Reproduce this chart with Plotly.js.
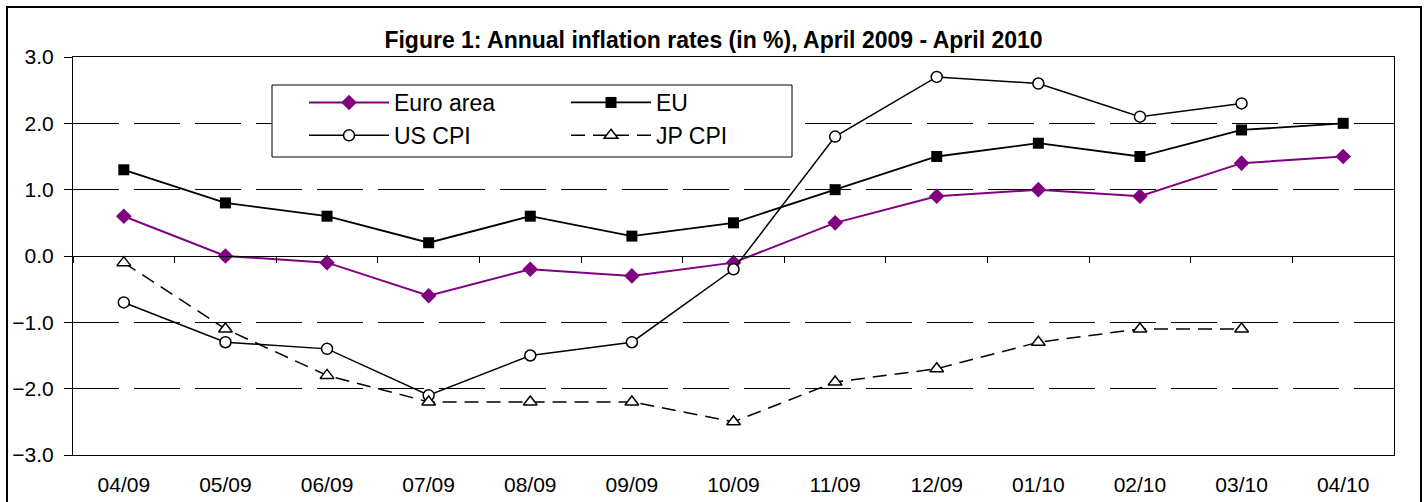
<!DOCTYPE html>
<html>
<head>
<meta charset="utf-8">
<script src="https://cdn.plot.ly/plotly-3.0.1.min.js"></script>
<style>
  html, body { margin: 0; padding: 0; background: #ffffff; }
  #chart { width: 1427px; height: 502px; }
</style>
</head>
<body>
<div id="chart"></div>
<script>
// ---- Data ----
const months = ["04/09","05/09","06/09","07/09","08/09","09/09","10/09","11/09","12/09","01/10","02/10","03/10","04/10"];
const euroArea = [0.6, 0.0, -0.1, -0.6, -0.2, -0.3, -0.1, 0.5, 0.9, 1.0, 0.9, 1.4, 1.5];
const eu       = [1.3, 0.8, 0.6, 0.2, 0.6, 0.3, 0.5, 1.0, 1.5, 1.7, 1.5, 1.9, 2.0];
const usCpi    = [-0.7, -1.3, -1.4, -2.1, -1.5, -1.3, -0.2, 1.8, 2.7, 2.6, 2.1, 2.3, null];
const jpCpi    = [-0.1, -1.1, -1.8, -2.2, -2.2, -2.2, -2.5, -1.9, -1.7, -1.3, -1.1, -1.1, null];
const seriesNames = ["Euro area", "EU", "US CPI", "JP CPI"];
const yTicks = [-3, -2, -1, 0, 1, 2, 3];
const titleText = "<b>Figure 1: Annual inflation rates (in %), April 2009 - April 2010</b>";

// ---- Layout geometry ----
const W = 1427, H = 502;
const M = {l: 73, r: 33, t: 57, b: 47};
const pw = W - M.l - M.r, ph = H - M.t - M.b;
const FONT = "Liberation Sans, Arial, Helvetica, sans-serif";
const px2x = v => (v - M.l) / pw;
const px2y = v => (H - M.b - v) / ph;

const traces = [
  {
    x: months, y: euroArea, name: seriesNames[0], type: "scatter", mode: "lines+markers",
    legend: "legend", legendgroup: "a",
    line: {color: "#800080", width: 2},
    marker: {symbol: "diamond", size: 12, color: "#800080"}
  },
  {
    x: months, y: eu, name: seriesNames[1], type: "scatter", mode: "lines+markers",
    legend: "legend2", legendgroup: "b",
    line: {color: "#000000", width: 1.8},
    marker: {symbol: "square", size: 11, color: "#000000"}
  },
  {
    x: months, y: usCpi, name: seriesNames[2], type: "scatter", mode: "lines+markers",
    legend: "legend", legendgroup: "c",
    line: {color: "#000000", width: 1.5},
    marker: {symbol: "circle", size: 11, color: "#ffffff", line: {color: "#000000", width: 1.5}}
  },
  {
    x: months, y: jpCpi, name: seriesNames[3], type: "scatter", mode: "lines+markers",
    legend: "legend2", legendgroup: "d",
    line: {color: "#000000", width: 1.5, dash: "14px,8px"},
    marker: {symbol: "triangle-up", size: 12, color: "#ffffff", line: {color: "#000000", width: 1.5}}
  },
  // helper trace so the zero-line category axis (with boundary ticks) is drawn
  {
    x: months, y: months.map(() => null), xaxis: "x2", yaxis: "y",
    type: "scatter", mode: "lines", showlegend: false, hoverinfo: "skip"
  }
];

const legendCommon = {
  orientation: "v",
  xanchor: "left", yanchor: "top",
  bgcolor: "rgba(0,0,0,0)", borderwidth: 0,
  font: {family: FONT, size: 23, color: "#000000"},
  itemwidth: 80,
  tracegroupgap: 5,
  traceorder: "normal"
};

const layout = {
  width: W, height: H,
  margin: M,
  paper_bgcolor: "#ffffff",
  plot_bgcolor: "#ffffff",
  font: {family: FONT, color: "#000000", size: 21},
  title: {
    text: titleText,
    font: {family: FONT, size: 23, color: "#000000"},
    x: 0.5, xref: "container", xanchor: "center",
    y: 1 - 40 / H, yref: "container", yanchor: "middle"
  },
  xaxis: {
    type: "category",
    categoryorder: "array", categoryarray: months,
    range: [-0.5, months.length - 0.5],
    showline: true, mirror: true, linecolor: "#000000", linewidth: 1,
    ticks: "", showgrid: false, zeroline: false,
    tickfont: {family: FONT, size: 21, color: "#000000"},
    ticklabelstandoff: 11,
    fixedrange: true
  },
  xaxis2: {
    type: "category",
    categoryorder: "array", categoryarray: months,
    range: [-0.5, months.length - 0.5],
    overlaying: "x", anchor: "free", position: 0.5, side: "bottom",
    showline: true, linecolor: "#000000", linewidth: 1,
    ticks: "outside", tickson: "boundaries", ticklen: 6, tickcolor: "#000000", tickwidth: 1,
    showticklabels: false, showgrid: false, zeroline: false,
    fixedrange: true
  },
  yaxis: {
    range: [-3, 3],
    tickvals: yTicks,
    tickformat: ".1f",
    showgrid: true, gridcolor: "#000000", gridwidth: 1, griddash: "46px,15px",
    zeroline: true, zerolinecolor: "#000000", zerolinewidth: 1,
    showline: true, mirror: true, linecolor: "#000000", linewidth: 1,
    ticks: "outside", ticklen: 8, tickcolor: "#000000",
    tickfont: {family: FONT, size: 21, color: "#000000"},
    ticklabelstandoff: 6,
    fixedrange: true
  },
  legend: Object.assign({}, legendCommon, {x: px2x(304), y: px2y(81)}),
  legend2: Object.assign({}, legendCommon, {x: px2x(566), y: px2y(81)}),
  shapes: [
    {
      type: "rect", xref: "paper", yref: "paper",
      x0: px2x(7), x1: px2x(1421),
      y0: px2y(515), y1: px2y(7),
      line: {color: "#000000", width: 2}, fillcolor: "rgba(0,0,0,0)", layer: "below"
    },
    {
      type: "rect", xref: "paper", yref: "paper",
      x0: px2x(272), x1: px2x(792),
      y0: px2y(157), y1: px2y(85),
      line: {color: "#000000", width: 1}, fillcolor: "#ffffff", layer: "above"
    }
  ],
  showlegend: true
};

Plotly.newPlot("chart", traces, layout, {staticPlot: true, displayModeBar: false});
</script>
</body>
</html>
